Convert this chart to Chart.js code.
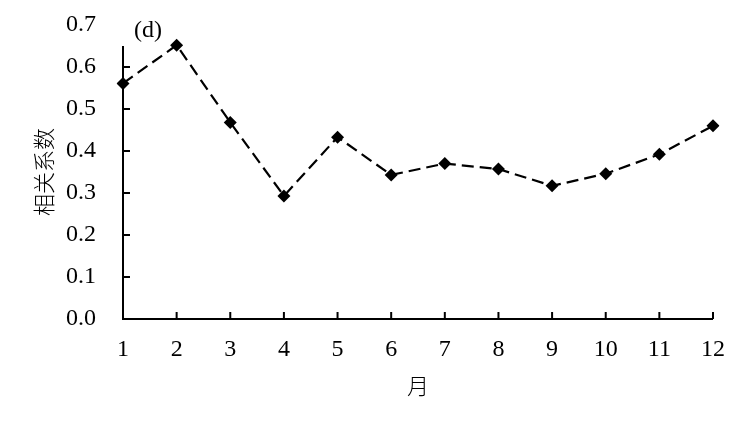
<!DOCTYPE html>
<html>
<head>
<meta charset="utf-8">
<script src="https://cdn.jsdelivr.net/npm/chart.js@4/dist/chart.umd.min.js"></script>
<style>
  html, body { margin: 0; padding: 0; background: #fff; }
  #wrap { width: 750px; height: 427px; }
</style>
</head>
<body>
<div id="wrap"><canvas id="ch"></canvas></div>
<script>
const months = ['1', '2', '3', '4', '5', '6', '7', '8', '9', '10', '11', '12'];
const corr = [0.561, 0.652, 0.468, 0.293, 0.433, 0.343, 0.370, 0.357, 0.317, 0.346, 0.392, 0.460];
const yTicks = [0, 0.1, 0.2, 0.3, 0.4, 0.5, 0.6, 0.7];

const serif = "'Liberation Serif', 'Times New Roman', serif";
const cjk = "'Noto Sans CJK SC', sans-serif";

// axes with inward ticks, y line stops short of the top like the original
const axesPlugin = {
  id: 'axes',
  afterDatasetsDraw(chart) {
    const { ctx, scales: { x, y } } = chart;
    const x0 = x.left, y0 = y.getPixelForValue(0);
    ctx.save();
    ctx.strokeStyle = '#000';
    ctx.lineWidth = 2;
    ctx.beginPath();
    ctx.moveTo(x0, y.getPixelForValue(0.65));
    ctx.lineTo(x0, y0);
    ctx.lineTo(x.right, y0);
    yTicks.forEach(v => {
      if (v === 0 || v === 0.7) return;
      const py = y.getPixelForValue(v);
      ctx.moveTo(x0, py); ctx.lineTo(x0 + 7, py);
    });
    months.forEach((m, i) => {
      if (i === 0) return;
      const px = x.getPixelForValue(i);
      ctx.moveTo(px, y0); ctx.lineTo(px, y0 - 7);
    });
    ctx.stroke();
    ctx.fillStyle = '#000';
    ctx.font = '24px ' + serif;
    ctx.textBaseline = 'middle';
    ctx.fillText('(d)', 134, 31);
    ctx.restore();
  }
};

new Chart(document.getElementById('ch'), {
  type: 'line',
  data: {
    labels: months,
    datasets: [{
      data: corr,
      borderColor: '#000',
      backgroundColor: '#000',
      borderWidth: 2.2,
      borderDash: [12, 6],
      pointStyle: 'rectRot',
      pointRadius: 6.5,
      pointBorderWidth: 0,
      tension: 0
    }]
  },
  options: {
    responsive: true, maintainAspectRatio: false, animation: false,
    layout: { padding: { top: 25, right: 37, left: 0, bottom: 28 } },
    plugins: { legend: { display: false }, tooltip: { enabled: false } },
    scales: {
      x: {
        offset: false,
        grid: { display: false, drawTicks: false },
        border: { display: false },
        ticks: { color: '#000', padding: 16, maxRotation: 0, font: { family: serif, size: 24 } },
        title: { display: true, text: '月', color: '#000', padding: { top: 8, bottom: 0 }, font: { family: cjk, size: 22, weight: '300' } },
        afterFit(s) { s.height = 80; }
      },
      y: {
        min: 0, max: 0.7,
        afterBuildTicks(s) { s.ticks = yTicks.map(v => ({ value: v })); },
        grid: { display: false, drawTicks: false },
        border: { display: false },
        ticks: { color: '#000', padding: 27, callback: v => v.toFixed(1), font: { family: serif, size: 24 } },
        title: { display: true, text: '相关系数', color: '#000', padding: { top: 30, bottom: 0 }, font: { family: cjk, size: 22, weight: '300' } },
        afterFit(s) { s.width = 123; s.paddingTop = 0; s.paddingBottom = 0; }
      }
    }
  },
  plugins: [axesPlugin]
});
</script>
</body>
</html>
